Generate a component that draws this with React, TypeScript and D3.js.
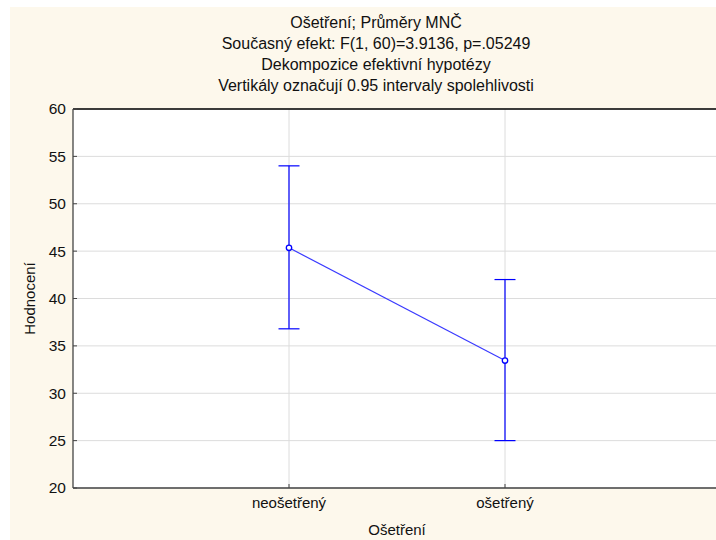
import React from "react";
import * as d3 from "d3";

// Group means with 0.95 confidence intervals
const categories = ["neošetřený", "ošetřený"];
const means = [45.35, 33.45];
const upper = [54.0, 42.0];
const lower = [36.8, 25.0];
const yTicks = [20, 25, 30, 35, 40, 45, 50, 55, 60];
const titleLines = [
  "Ošetření; Průměry MNČ",
  "Současný efekt: F(1, 60)=3.9136, p=.05249",
  "Dekompozice efektivní hypotézy",
  "Vertikály označují 0.95 intervaly spolehlivosti",
];
const xTitle = "Ošetření";
const yTitle = "Hodnocení";

const W = 716;
const H = 540;
const FONT = "'Liberation Sans', Arial, sans-serif";
const BLUE = "#0000ff";

export default function App() {
  const left = 73;
  const top = 109;
  const bottom = 488;
  const right = 721;

  const y = d3.scaleLinear().domain([20, 60]).range([bottom, top]);
  // categories sit on slots 1 and 2 of a 0..3 axis
  const x = d3.scaleLinear().domain([0, 3]).range([left, right]);
  const xc = (i: number) => x(i + 1);

  const line = d3
    .line<number>()
    .x((_, i) => xc(i))
    .y((d) => y(d));

  const cap = 10.5;

  return (
    <svg
      width={W}
      height={H}
      style={{ position: "absolute", left: 0, top: 0 }}
      fontFamily={FONT}
    >
      <rect x={0} y={0} width={W} height={H} fill="#ffffff" />
      <rect x={10} y={7} width={W - 10} height={H - 7} fill="#fdf8ec" />

      {titleLines.map((t, i) => (
        <text
          key={i}
          x={376}
          y={27.5 + i * 21.3}
          textAnchor="middle"
          fontSize={16}
          fill="#111"
        >
          {t}
        </text>
      ))}

      <rect x={left} y={top} width={right - left} height={bottom - top} fill="#ffffff" />

      {/* horizontal grid */}
      {yTicks.map((t) => (
        <line
          key={"g" + t}
          x1={left}
          x2={right}
          y1={y(t)}
          y2={y(t)}
          stroke="#dcdcdc"
          strokeWidth={1}
        />
      ))}
      {/* vertical grid at categories */}
      {categories.map((c, i) => (
        <line
          key={"v" + c}
          x1={xc(i)}
          x2={xc(i)}
          y1={top}
          y2={bottom}
          stroke="#dcdcdc"
          strokeWidth={1}
        />
      ))}

      {/* frame */}
      <line x1={left} x2={right} y1={top} y2={top} stroke="#000" strokeWidth={1.3} />
      <line x1={left} x2={left} y1={top} y2={bottom} stroke="#444" strokeWidth={1.3} />
      <line x1={left} x2={right} y1={bottom} y2={bottom} stroke="#444" strokeWidth={1.3} />

      {/* y ticks and labels */}
      {yTicks.map((t) => (
        <g key={"t" + t}>
          <line x1={left} x2={left + 4} y1={y(t)} y2={y(t)} stroke="#444" />
          <text
            x={left - 7}
            y={y(t)}
            dy="0.35em"
            textAnchor="end"
            fontSize={15.5}
            fill="#111"
          >
            {t}
          </text>
        </g>
      ))}

      {/* x ticks and labels */}
      {categories.map((c, i) => (
        <g key={"x" + c}>
          <line x1={xc(i)} x2={xc(i)} y1={bottom} y2={bottom - 4} stroke="#444" />
          <text x={xc(i)} y={508} textAnchor="middle" fontSize={15} fill="#111">
            {c}
          </text>
        </g>
      ))}

      <text x={397} y={535} textAnchor="middle" fontSize={15} fill="#111">
        {xTitle}
      </text>
      <text
        transform={`translate(35, ${(top + bottom) / 2}) rotate(-90)`}
        textAnchor="middle"
        fontSize={15}
        fill="#111"
      >
        {yTitle}
      </text>

      {/* error bars */}
      {categories.map((c, i) => (
        <g key={"e" + c} stroke={BLUE} strokeWidth={1.2}>
          <line x1={xc(i)} x2={xc(i)} y1={y(upper[i])} y2={y(lower[i])} />
          <line x1={xc(i) - cap} x2={xc(i) + cap} y1={y(upper[i])} y2={y(upper[i])} />
          <line x1={xc(i) - cap} x2={xc(i) + cap} y1={y(lower[i])} y2={y(lower[i])} />
        </g>
      ))}

      {/* mean line */}
      <path d={line(means) || ""} fill="none" stroke="#3a3aff" strokeWidth={1.2} />
      {means.map((m, i) => (
        <circle
          key={"m" + i}
          cx={xc(i)}
          cy={y(m)}
          r={2.7}
          fill="#ffffff"
          stroke={BLUE}
          strokeWidth={1.3}
        />
      ))}
    </svg>
  );
}
